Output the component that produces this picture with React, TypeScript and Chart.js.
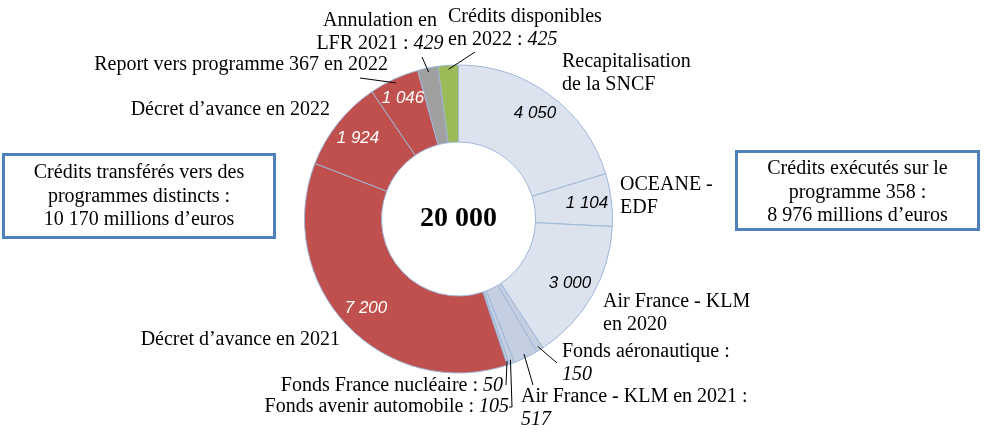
import { useEffect, useRef } from "react";
import { Chart, registerables } from "chart.js";

Chart.register(...registerables);

// ---------- data ----------
const categories = [
  "Recapitalisation de la SNCF",
  "OCEANE - EDF",
  "Air France - KLM en 2020",
  "Fonds aéronautique",
  "Air France - KLM en 2021",
  "Fonds avenir automobile",
  "Fonds France nucléaire",
  "Décret d’avance en 2021",
  "Décret d’avance en 2022",
  "Report vers programme 367 en 2022",
  "Annulation en LFR 2021",
  "Crédits disponibles en 2022",
];
const values = [4050, 1104, 3000, 150, 517, 105, 50, 7200, 1924, 1046, 429, 425];
const insideValueIdx = [0, 1, 2, 7, 8, 9];
const leftBoxLines = ["Crédits transférés vers des", "programmes distincts :", "10 170 millions d’euros"];
const rightBoxLines = ["Crédits exécutés sur le", "programme 358 :", "8 976 millions d’euros"];

// ---------- styles ----------
const LIGHT = "#dce3ef";
const MID = "#c4cfe2";
const RED = "#c0504d";
const sliceColors = [LIGHT, LIGHT, LIGHT, MID, MID, MID, MID, RED, RED, RED, "#a0a0a0", "#9bbb59"];
const SERIF = "'Liberation Serif', 'DejaVu Serif', serif";
const SANS = "'Liberation Sans', Arial, sans-serif";
const LABEL_SIZE = 20;

// positions of annotation texts relative to the canvas
const insidePos: Record<number, [number, number]> = {
  0: [535, 113],
  1: [587, 203],
  2: [570, 283],
  7: [366, 308],
  8: [358, 138],
  9: [403, 98],
};

type OuterLabel = {
  i: number;
  lines: string[];
  x: number;
  y: number;
  align: "left" | "right" | "center";
  leader?: [number, number][];
};

const outerLabels: OuterLabel[] = [
  { i: 0, lines: ["Recapitalisation", "de la SNCF"], x: 562, y: 62, align: "left" },
  { i: 1, lines: ["OCEANE -", "EDF"], x: 620, y: 185, align: "left" },
  { i: 2, lines: ["Air France - KLM", "en 2020"], x: 603, y: 302, align: "left" },
  { i: 3, lines: ["Fonds aéronautique :", "{v}"], x: 562, y: 352, align: "left", leader: [[557, 363]] },
  { i: 4, lines: ["Air France - KLM en 2021 :", "{v}"], x: 521, y: 397, align: "left", leader: [[533, 385]] },
  { i: 5, lines: ["Fonds avenir automobile : {v}"], x: 509, y: 407, align: "right", leader: [[512, 407], [509, 407]] },
  { i: 6, lines: ["Fonds France nucléaire : {v}"], x: 503, y: 386, align: "right", leader: [[506, 385]] },
  { i: 7, lines: ["Décret d’avance en 2021"], x: 340, y: 340, align: "right" },
  { i: 8, lines: ["Décret d’avance en 2022"], x: 330, y: 110, align: "right" },
  { i: 9, lines: ["Report vers programme 367 en 2022"], x: 388, y: 65, align: "right", leader: [[360, 78]] },
  { i: 10, lines: ["Annulation en", "LFR 2021 : {v}"], x: 380, y: 21, align: "center", leader: [[422, 57]] },
  { i: 11, lines: ["Crédits disponibles", "en 2022 : {v}"], x: 448, y: 17, align: "left", leader: [[475, 52]] },
];

const fmt = (v: number) => {
  const s = String(Math.round(v));
  return s.replace(/\B(?=(\d{3})+(?!\d))/g, " ");
};

function drawRich(ctx: CanvasRenderingContext2D, line: string, value: number, x: number, y: number, align: string) {
  const parts: { t: string; it: boolean }[] = [];
  const idx = line.indexOf("{v}");
  if (idx >= 0) {
    if (idx > 0) parts.push({ t: line.slice(0, idx), it: false });
    parts.push({ t: fmt(value), it: true });
    if (idx + 3 < line.length) parts.push({ t: line.slice(idx + 3), it: false });
  } else parts.push({ t: line, it: false });
  const fontOf = (it: boolean) => `${it ? "italic " : ""}${LABEL_SIZE}px ${SERIF}`;
  let total = 0;
  const widths = parts.map((p) => {
    ctx.font = fontOf(p.it);
    const w = ctx.measureText(p.t).width;
    total += w;
    return w;
  });
  let cx = align === "left" ? x : align === "right" ? x - total : x - total / 2;
  ctx.textAlign = "left";
  ctx.textBaseline = "middle";
  parts.forEach((p, k) => {
    ctx.font = fontOf(p.it);
    ctx.fillText(p.t, cx, y);
    cx += widths[k];
  });
}

const annotations = {
  id: "annotations",
  afterDraw(chart: any) {
    const ctx: CanvasRenderingContext2D = chart.ctx;
    const meta = chart.getDatasetMeta(0);
    ctx.save();

    // center total
    const total = values.reduce((a, b) => a + b, 0);
    const arc0 = meta.data[0];
    ctx.fillStyle = "#000";
    ctx.font = `bold 28px ${SERIF}`;
    ctx.textAlign = "center";
    ctx.textBaseline = "middle";
    ctx.fillText(fmt(total), arc0.x, arc0.y);

    // inside values
    insideValueIdx.forEach((i) => {
      const [x, y] = insidePos[i];
      ctx.font = `italic 17px ${SANS}`;
      ctx.fillStyle = sliceColors[i] === RED ? "#ffffff" : "#000000";
      ctx.textAlign = "center";
      ctx.textBaseline = "middle";
      ctx.fillText(fmt(values[i]), x, y);
    });

    // outer labels + leader lines
    ctx.fillStyle = "#000";
    outerLabels.forEach((lab) => {
      lab.lines.forEach((ln, k) => drawRich(ctx, ln, values[lab.i], lab.x, lab.y + k * 23, lab.align));
      if (lab.leader) {
        const a = meta.data[lab.i];
        const mid = (a.startAngle + a.endAngle) / 2;
        const r = a.outerRadius - 4;
        ctx.beginPath();
        ctx.moveTo(a.x + Math.cos(mid) * r, a.y + Math.sin(mid) * r);
        lab.leader.forEach(([px, py]) => ctx.lineTo(px, py));
        ctx.strokeStyle = "#000";
        ctx.lineWidth = 1;
        ctx.stroke();
      }
    });

    // boxes
    const drawBox = (x: number, y: number, w: number, h: number, lines: string[], cy: number, gap: number) => {
      ctx.strokeStyle = "#4f81bd";
      ctx.lineWidth = 3;
      ctx.strokeRect(x, y, w, h);
      ctx.fillStyle = "#000";
      ctx.font = `${LABEL_SIZE}px ${SERIF}`;
      ctx.textAlign = "center";
      ctx.textBaseline = "middle";
      lines.forEach((l, k) => ctx.fillText(l, x + w / 2, cy + k * gap));
    };
    drawBox(3.5, 154.5, 271, 83, leftBoxLines, 173, 23.5);
    drawBox(736.5, 151.5, 242, 78, rightBoxLines, 169, 23.5);

    ctx.restore();
  },
};

export default function App() {
  const ref = useRef<HTMLCanvasElement>(null);
  useEffect(() => {
    if (!ref.current) return;
    const chart = new Chart(ref.current, {
      type: "doughnut",
      data: {
        labels: categories,
        datasets: [
          {
            data: values,
            backgroundColor: sliceColors,
            borderColor: "#9fb6d8",
            borderWidth: 1,
            hoverOffset: 0,
          },
        ],
      },
      options: {
        responsive: false,
        animation: false,
        cutout: "50%",
        layout: { padding: { left: 304, right: 371, top: 64, bottom: 68 } },
        plugins: { legend: { display: false }, tooltip: { enabled: false } },
        events: [],
      },
      plugins: [annotations],
    });
    return () => chart.destroy();
  }, []);
  return (
    <div style={{ position: "absolute", left: 0, top: 0, width: 984, height: 442, background: "#fff" }}>
      <canvas ref={ref} width={984} height={442} style={{ width: 984, height: 442 }} />
    </div>
  );
}
